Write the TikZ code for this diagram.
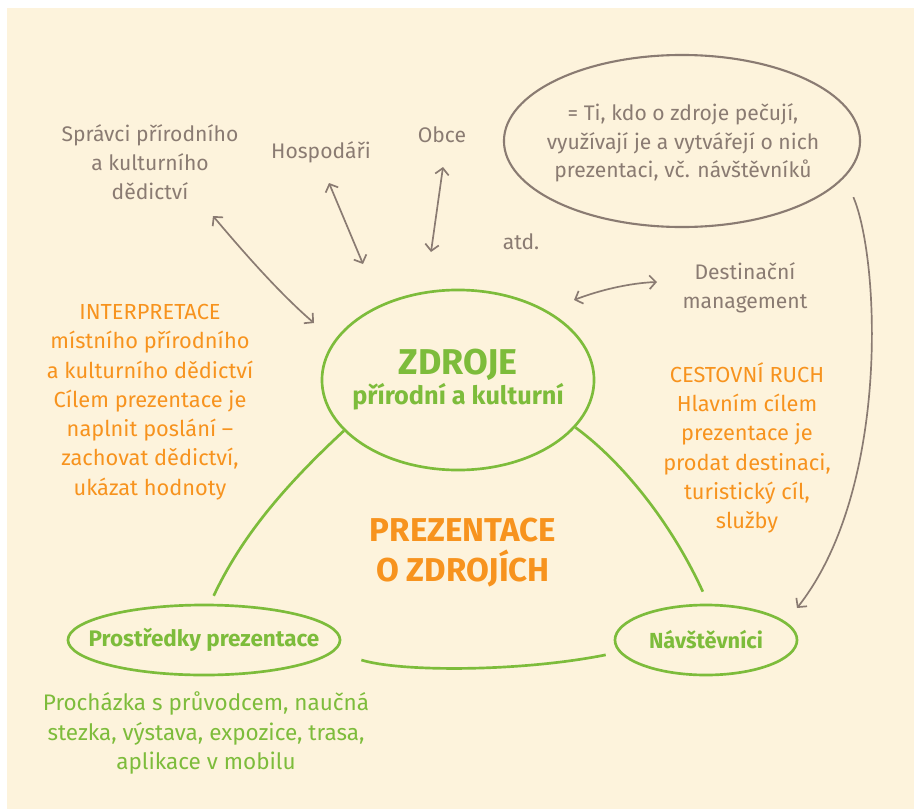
\documentclass[tikz,border=0pt]{standalone}
\usepackage{fontspec}
\setmainfont{Fira Sans}
\usetikzlibrary{shapes.geometric,arrows.meta}

\definecolor{cream}{HTML}{FDF3DC}
\definecolor{greybrown}{HTML}{8A7B72}
\definecolor{orng}{HTML}{F7931E}
\definecolor{leaf}{HTML}{7DBC3B}

\tikzset{
  greytext/.style={text=greybrown,align=center,inner sep=0pt,font=\fontsize{15}{20.4}\selectfont},
  orangetext/.style={text=orng,align=center,inner sep=0pt,font=\fontsize{15.5}{20.8}\selectfont},
  greentext/.style={text=leaf,align=center,inner sep=0pt,font=\fontsize{16}{21.3}\selectfont},
  greenoval/.style={ellipse,draw=leaf,line width=1.9pt,inner sep=0pt},
  greyoval/.style={ellipse,draw=greybrown,line width=1.5pt,inner sep=0pt},
  link/.style={draw=leaf,line width=1.9pt},
  twoway/.style={draw=greybrown,line width=1.2pt,{Straight Barb[length=1.6mm,width=3.4mm]}-{Straight Barb[length=1.6mm,width=3.4mm]}},
  oneway/.style={draw=greybrown,line width=1.2pt,-{Straight Barb[length=1.6mm,width=3.4mm]}}
}

\begin{document}
\begin{tikzpicture}[x=0.025cm,y=-0.025cm]
  \useasboundingbox (0,0) rectangle (914,809);
  \fill[cream] (7,8) rectangle (914,809);

  % the four ovals
  \node[greenoval,minimum width=6.8cm,minimum height=4.5cm] (zdroje) at (458,380) {};
  \node[text=leaf,align=center,inner sep=0pt] (zdroje-text) at (zdroje)
    {{\fontsize{25.5}{30}\bfseries\selectfont ZDROJE}\\[1pt]{\fontsize{18}{21}\bfseries\selectfont přírodní a kulturní}};
  \node[greenoval,minimum width=6.8cm,minimum height=1.75cm] (prostredky) at (204,640) {};
  \node[text=leaf,inner sep=0pt,font=\fontsize{16}{19}\bfseries\selectfont] (prostredky-name) at (prostredky) {Prostředky prezentace};
  \node[greenoval,minimum width=4.55cm,minimum height=1.75cm] (navstevnici) at (706,640) {};
  \node[text=leaf,inner sep=0pt,font=\fontsize{15.5}{19}\bfseries\selectfont] (navstevnici-name) at (navstevnici) {Návštěvníci};
  \node[greyoval,minimum width=8.9cm,minimum height=4.3cm] (kdo) at (682,141) {};
  \node[greytext] (kdotext) at (683,143) {= Ti, kdo o zdroje pečují,\\využívají je a vytvářejí o nich\\prezentaci, vč. návštěvníků};

  % actors around the resources
  \node[greytext] (spravci) at (150,162) {Správci přírodního\\a kulturního\\dědictví};
  \node[greytext] (hospodari) at (321,152) {Hospodáři};
  \node[greytext] (obce) at (442,135) {Obce};
  \node[greytext] (atd) at (521,242) {atd.};
  \node[greytext] (destinace) at (745,288) {Destinační\\management};

  \node[orangetext] (interpretace) at (150,402) {INTERPRETACE\\místního přírodního\\a kulturního dědictví\\Cílem prezentace je\\naplnit poslání –\\zachovat dědictví,\\ukázat hodnoty};
  \node[orangetext] (ruch) at (747,448) {CESTOVNÍ RUCH\\Hlavním cílem\\prezentace je\\prodat destinaci,\\turistický cíl,\\služby};
  \node[text=orng,align=center,inner sep=0pt,font=\fontsize{23.5}{28.4}\bfseries\selectfont] (prezentace) at (463,553) {PREZENTACE\\O ZDROJÍCH};
  \node[greentext] (prostredky-text) at (206,733) {Procházka s průvodcem, naučná\\stezka, výstava, expozice, trasa,\\aplikace v mobilu};

  % arrow ends
  \coordinate (s1) at (213,216);
  \coordinate (s2) at (314,323);
  \coordinate (h1) at (329,183);
  \coordinate (h2) at (363,264);
  \coordinate (o1) at (443,167);
  \coordinate (o2) at (431,252);
  \coordinate (d1) at (657,282);
  \coordinate (d2) at (574,300);
  \coordinate (nv) at (797,608);

  \draw[twoway] (s1) .. controls (240,248) and (278,292) .. (s2);
  \draw[twoway] (h1) -- (h2);
  \draw[twoway] (o1) -- (o2);
  \draw[twoway] (d2) .. controls (600,290) and (630,283) .. (d1);
  \draw[oneway] ([xshift=0.7cm,yshift=-0.1cm]kdo.-20) .. controls (880,260) and (890,490) .. (nv);

  % the triangle
  \draw[link] (zdroje.204) .. controls (280,490) and (240,540) .. ([yshift=0.2cm]prostredky.75);
  \draw[link] (zdroje.-22) .. controls (620,460) and (670,520) .. ([yshift=0.3cm]navstevnici.95);
  \draw[link] ([shift={(20,20)}]prostredky.east) .. controls (400,672) and (520,672) .. ([xshift=-0.4cm]navstevnici.190);
\end{tikzpicture}
\end{document}
